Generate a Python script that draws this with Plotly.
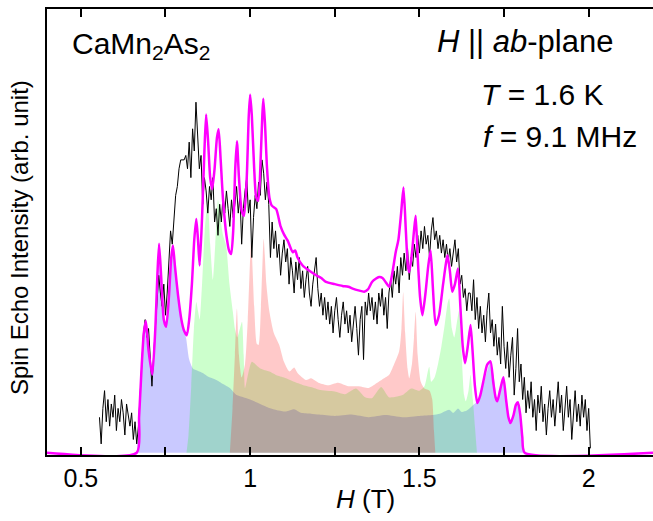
import plotly.graph_objects as go

# ---------------- data ----------------
# experimental spin-echo spectrum (black), H grid in tesla, step 0.005 T
exp_H_start = 0.555
exp_H_step = 0.005
exp_I = [
    8, 2, 10, 14, 7, 12, 6, 11, 8, 13, 5, 10, 7, 12, 9, 4, 11, 8, 6, 9, 3, 7, 2,
    6, 14, 22, 27, 30, 26, 28, 20, 15, 22, 28, 35, 40, 36, 33, 38, 31, 36, 44, 50, 47,
    54, 58, 60, 64, 66, 66, 66, 67,
    64, 70, 62, 73, 68, 79, 72, 64, 67, 56, 62, 59, 54, 60, 57, 62, 52, 55, 49, 56,
    52, 58, 54, 59, 55, 51, 57, 53,
    56, 60, 54, 58, 47, 55, 59, 62, 54, 57, 44, 53, 58, 55, 61, 58, 66, 63, 57, 61,
    56, 44, 52, 46,
    50, 44, 47, 40, 45, 48, 43, 46, 38, 44, 41, 36, 43, 39, 44, 37, 41, 35, 39, 42,
    36, 33, 38, 41, 44, 37, 33, 36, 31, 35, 30, 34, 29, 33, 27, 32, 35, 30, 26, 31,
    34, 29, 32, 27, 31, 25, 29, 33, 28, 22, 30, 33, 21, 34, 31, 36, 32, 35, 30, 34,
    29, 36, 33, 37, 31, 35, 28, 36, 39, 35, 41, 38,
    42, 36, 44, 40, 45, 41, 46, 39, 44, 42, 47, 44, 49, 45, 50, 46, 51, 47, 49, 44,
    50, 53, 48, 50, 46, 49, 45, 48, 44, 47, 43, 46, 42, 45, 48, 43, 46, 38, 40, 35,
    37, 32, 36,
    36, 32, 39, 30, 35, 28, 33, 27, 31, 25, 32, 36, 27, 30, 24, 29, 22, 26, 20, 33,
    24, 19, 25, 17, 22, 26, 13, 19, 28, 16, 20, 12, 17, 9, 14, 10, 16, 8, 12, 5,
    13, 9, 15, 7, 11, 4, 10, 14, 8, 12, 6, 11, 16, 9, 13, 5, 10, 15, 8, 12,
    3, 9, 14, 7, 11, 6, 13, 8, 12, 5, 10, 1,
]
exp_H = [round(exp_H_start + exp_H_step * i, 4) for i in range(len(exp_I))]

# simulated total spectrum (magenta)
sim_H = [0.40, 0.665, 0.672, 0.680, 0.686, 0.692, 0.700, 0.711, 0.720, 0.726, 0.731, 0.737,
         0.745, 0.752, 0.760, 0.767, 0.772, 0.778, 0.787, 0.797, 0.805, 0.813, 0.820,
         0.828, 0.835, 0.841, 0.846, 0.851, 0.858, 0.865, 0.870, 0.876, 0.882, 0.888,
         0.895, 0.902, 0.907, 0.913, 0.920, 0.930, 0.938, 0.944, 0.950, 0.956, 0.961,
         0.967, 0.975, 0.982, 0.990, 0.996, 1.000, 1.005, 1.012, 1.018, 1.024, 1.031,
         1.036, 1.039, 1.044, 1.050, 1.057, 1.064, 1.077, 1.090, 1.100, 1.111, 1.126,
         1.133, 1.140, 1.155, 1.175, 1.195, 1.210, 1.224, 1.250, 1.273, 1.290, 1.303,
         1.320, 1.337, 1.348, 1.360, 1.371, 1.381, 1.391, 1.400, 1.411, 1.420, 1.430,
         1.438, 1.446, 1.453, 1.460, 1.466, 1.470, 1.478, 1.484, 1.489, 1.495, 1.502,
         1.509, 1.518, 1.526, 1.533, 1.540, 1.548, 1.558, 1.570, 1.578, 1.583, 1.590,
         1.597, 1.605, 1.614, 1.621, 1.628, 1.635, 1.643, 1.651, 1.657, 1.664, 1.671,
         1.680, 1.690, 1.700, 1.710, 1.718, 1.725, 1.730, 1.738, 1.748, 1.756, 1.763,
         1.769, 1.778, 1.785, 1.791, 1.798, 1.804, 1.811, 2.19]
sim_I = [0, 0, 8, 20, 27, 29.7, 23, 17.6, 28, 40, 47.1, 40,
         30, 28.4, 35, 44, 46.7, 42, 35.5, 30, 27.5, 26.5, 30,
         38, 48, 52.7, 48, 42.2, 53, 68, 76.2, 70, 62, 59.4,
         64, 71, 72.9, 66, 57, 49, 45.5, 44.8, 50, 64, 70.2,
         62, 54.5, 53.4, 62, 76, 80.7, 76, 64, 57.5, 56.8, 66,
         76, 79.8, 74, 64, 57.5, 55.7, 54.9, 51, 49.2, 47.8, 45.2,
         45.6, 44, 42.2, 41, 40, 39.4, 38.5, 38, 37.6, 37.4, 37,
         36.6, 36.3, 36.8, 38.5, 39.2, 39.6, 39.4, 38.5, 37.4, 40.5, 45.2,
         48, 54, 59.8, 50, 42, 40.7, 45, 50, 53.4, 44, 35,
         31, 36, 42, 45.6, 37, 28.8, 31, 38, 42.5, 44.5, 41,
         36.3, 38, 41.5, 33, 24, 20.2, 24, 28.8, 23, 15, 11.2,
         13, 16.5, 19.8, 20.6, 16, 12.5, 11.6, 14, 17, 12, 8,
         6.7, 8.5, 10.8, 11.4, 8.5, 3.5, 0, 0]

# component 1 (blue)
blue_H = [0.665, 0.672, 0.680, 0.686, 0.692, 0.700, 0.711, 0.720, 0.726, 0.731, 0.737, 0.745,
          0.752, 0.760, 0.767, 0.772, 0.778, 0.787, 0.797, 0.805, 0.811, 0.820, 0.831, 0.845,
          0.860, 0.880, 0.900, 0.920, 0.940, 0.960, 0.980, 1.000, 1.030, 1.057, 1.080, 1.106,
          1.130, 1.150, 1.180, 1.204, 1.250, 1.300, 1.350, 1.400, 1.450, 1.500, 1.540, 1.560,
          1.588, 1.600, 1.614, 1.625, 1.640, 1.655, 1.666, 1.680, 1.695, 1.710, 1.720, 1.730,
          1.740, 1.748, 1.758, 1.769, 1.780, 1.791, 1.800, 1.806, 1.811]
blue_I = [0, 8, 20, 27, 29.7, 23, 17.6, 28, 40, 47, 40, 30,
          28.4, 35, 44, 46.7, 42, 35.5, 30, 27.5, 25.8, 21, 19, 18.5,
          18, 17, 16.4, 15.5, 14.6, 13, 12.5, 12, 11, 10.1, 9.6, 9.3,
          9.8, 9, 8.8, 8.6, 8.3, 8.6, 8, 8.5, 8, 8.3, 8.5, 8.8,
          9.7, 9, 10, 9.2, 9.5, 10.5, 11.2, 13, 17, 20.6, 17, 11.6,
          14, 17, 12, 6.7, 9, 11.4, 8, 3, 0]

# component 2 (green)
green_H = [0.812, 0.818, 0.826, 0.834, 0.841, 0.846, 0.851, 0.858, 0.866, 0.875, 0.882, 0.890,
           0.897, 0.905, 0.912, 0.920, 0.929, 0.939, 0.949, 0.955, 0.962, 0.970, 0.976, 0.981,
           0.985, 0.992, 1.005, 1.030, 1.057, 1.080, 1.106, 1.130, 1.155, 1.180, 1.204, 1.250,
           1.280, 1.313, 1.340, 1.360, 1.387, 1.410, 1.430, 1.450, 1.476, 1.500, 1.515, 1.524,
           1.529, 1.535, 1.545, 1.555, 1.565, 1.575, 1.583, 1.588, 1.596, 1.603, 1.610, 1.617,
           1.625, 1.632, 1.637, 1.645, 1.651, 1.658, 1.664, 1.670]
green_I = [0, 4, 15, 28, 34, 32, 30, 38, 50, 57, 47, 39,
           47, 57, 53, 49, 46.7, 38, 31.8, 28, 26, 28, 29.5, 22,
           14.6, 17, 20.5, 19, 18.3, 17.4, 16.8, 16, 15.3, 14.8, 14.2, 13.8,
           13.2, 14.5, 12.5, 12.3, 14.8, 12.5, 12.6, 13, 14.5, 14, 15, 18,
           19.4, 16, 17, 20, 24, 29, 33.5, 34.8, 28, 26, 29, 32,
           22, 13, 11.6, 14, 17.6, 12, 6, 0]

# component 3 (red)
red_H = [0.940, 0.948, 0.955, 0.961, 0.967, 0.975, 0.985, 0.993, 1.003, 1.012, 1.020, 1.025,
         1.032, 1.040, 1.048, 1.057, 1.070, 1.086, 1.100, 1.116, 1.130, 1.140, 1.165, 1.180,
         1.204, 1.230, 1.260, 1.290, 1.322, 1.350, 1.370, 1.390, 1.410, 1.420, 1.440, 1.447,
         1.452, 1.458, 1.465, 1.470, 1.478, 1.484, 1.489, 1.495, 1.504, 1.515, 1.530, 1.538,
         1.543, 1.547]
red_I = [0, 10, 22, 32.5, 22, 17, 20, 30, 47.5, 33, 24.5, 24.3,
         33, 48.2, 38, 31.8, 27, 24.3, 20.5, 18.3, 19.2, 18, 16.4, 16.8,
         15.7, 15.2, 15.8, 15, 15, 14.6, 15.5, 16.5, 17.5, 19, 22.8, 28,
         36.2, 27, 19, 16.8, 20, 26, 31.8, 22, 16, 14.5, 14, 12,
         5, 0]

major_ticks = [0.5, 1.0, 1.5, 2.0]
major_text = ["0.5", "1", "1.5", "2"]
minor_ticks = [0.75, 1.25, 1.75]

# ---------------- figure ----------------
FONT = "Arial, Liberation Sans, sans-serif"
fig = go.Figure()

for H, I, col in [(blue_H, blue_I, "rgba(0,0,255,0.21)"),
                  (green_H, green_I, "rgba(0,255,0,0.20)"),
                  (red_H, red_I, "rgba(255,0,0,0.21)")]:
    fig.add_trace(go.Scatter(x=H, y=I, mode="lines", fill="tozeroy", fillcolor=col,
                             line=dict(width=0, shape="spline", smoothing=0.6),
                             hoverinfo="skip", showlegend=False))

fig.add_trace(go.Scatter(x=exp_H, y=exp_I, mode="lines",
                         line=dict(color="black", width=1), showlegend=False))
fig.add_trace(go.Scatter(x=sim_H, y=sim_I, mode="lines",
                         line=dict(color="#FF00FF", width=2.5, shape="spline", smoothing=0.6),
                         showlegend=False))

L, R, T, B = 47, 0, 9, 66
W, Hh = 653, 521
pw, ph = W - L - R, Hh - T - B

def px(xp):
    return (xp - L) / pw

def py(yp):
    return (Hh - B - yp) / ph

fig.update_layout(
    width=W, height=Hh,
    margin=dict(l=L, r=R, t=T, b=B),
    paper_bgcolor="white", plot_bgcolor="white",
    font=dict(family=FONT, color="black"),
    xaxis=dict(range=[0.4, 2.19], tickvals=major_ticks, ticktext=major_text,
               ticks="inside", ticklen=8, tickwidth=1.5, tickcolor="black",
               minor=dict(tickvals=minor_ticks, ticks="inside", ticklen=8,
                          tickwidth=1.5, tickcolor="black", showgrid=False),
               showline=True, linewidth=2, linecolor="black", mirror="ticks",
               showgrid=False, zeroline=False, tickfont=dict(size=25, family=FONT)),
    yaxis=dict(range=[-0.5, 100], showticklabels=False, ticks="",
               showline=True, linewidth=2, linecolor="black", mirror=False,
               showgrid=False, zeroline=False),
    annotations=[
        dict(text="CaMn<sub>2</sub>As<sub>2</sub>", xref="paper", yref="paper",
             x=px(70), y=py(45), xanchor="left", yanchor="middle", showarrow=False,
             font=dict(size=30, family=FONT)),
        dict(text="<i>H</i> || <i>ab</i>-plane", xref="paper", yref="paper",
             x=px(615), y=py(42), xanchor="right", yanchor="middle", showarrow=False,
             font=dict(size=31, family=FONT)),
        dict(text="<i>T</i> = 1.6 K", xref="paper", yref="paper",
             x=px(479), y=py(94), xanchor="left", yanchor="middle", showarrow=False,
             font=dict(size=30, family=FONT)),
        dict(text="<i>f</i> = 9.1 MHz", xref="paper", yref="paper",
             x=px(481), y=py(136), xanchor="left", yanchor="middle", showarrow=False,
             font=dict(size=30, family=FONT)),
        dict(text="<i>H</i> (T)", xref="paper", yref="paper",
             x=px(365), y=py(499), xanchor="center", yanchor="middle", showarrow=False,
             font=dict(size=26, family=FONT)),
        dict(text="Spin Echo Intensity (arb. unit)", xref="paper", yref="paper",
             x=px(19), y=py(238), xanchor="center", yanchor="middle", showarrow=False,
             textangle=-90, font=dict(size=24, family=FONT)),
    ],
)

fig.write_html("out.html")
